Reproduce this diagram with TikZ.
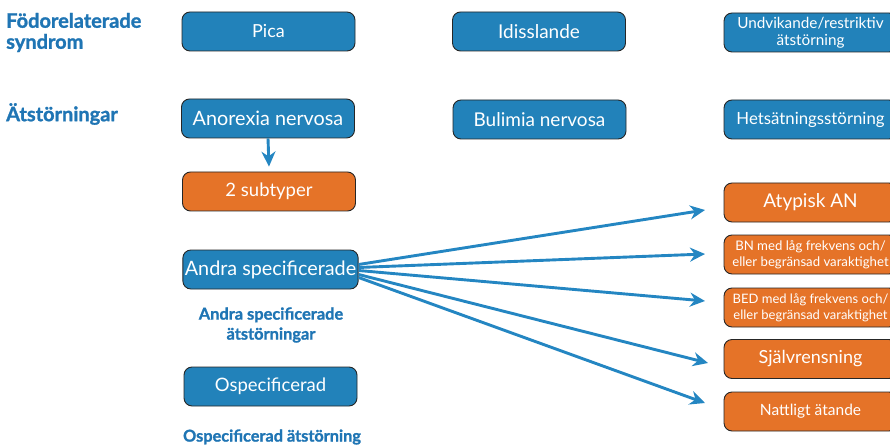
\documentclass[tikz,border=0pt]{standalone}
\usepackage{fontspec}
\setmainfont{Lato}
\newfontfamily\headfont{Lato}[BoldFeatures={FakeBold=1.3}]
\usetikzlibrary{arrows.meta,calc}
\definecolor{boxblue}{RGB}{34,130,186}
\definecolor{boxorange}{RGB}{229,115,40}
\definecolor{titleblue}{RGB}{31,117,180}
\definecolor{arrowblue}{RGB}{36,134,194}
\newcommand{\fs}[1]{\fontsize{#1}{#1}\selectfont}
\tikzset{
  box/.style={draw=black!85, line width=0.9pt, rounded corners=8pt, minimum width=173pt, minimum height=39pt, inner sep=2pt, text=white, align=center, font=\fs{18}},
  bluebox/.style={box, fill=boxblue},
  orangebox/.style={box, fill=boxorange},
  heading/.style={text=titleblue, inner sep=0pt}
}
\tikzset{arr/.style={draw=arrowblue, line width=2.9pt, -{Stealth[length=15pt,width=14pt]}}}
\begin{document}
\begin{tikzpicture}[x=1pt,y=-1pt]
\useasboundingbox (0,0) rectangle (890,446);
% headings
\node[heading, anchor=west, align=left, font=\headfont\bfseries\fontsize{20}{21}\selectfont] (h1) at (6,32.5) {Födorelaterade\\syndrom};
\node[heading, anchor=west, font=\headfont\bfseries\fs{20}] (h2) at (6,114) {Ätstörningar};
% column 1
\node[bluebox] (pica) at (268.5,31.5) {Pica};
\node[bluebox, font=\fs{19.8}] (an) at (268,118.5) {Anorexia nervosa};
\node[orangebox, font=\fs{18.5}] (sub) at (269,191.5) {2 subtyper};
\node[bluebox, font=\fs{19.8}] (andra) at (270.5,269.5) {Andra specificerade};
\node[heading, align=center, font=\headfont\bfseries\fontsize{16.4}{20}\selectfont] (andralbl) at (271,325) {Andra specificerade\\ätstörningar};
\node[bluebox, font=\fs{18.5}] (osp) at (270.5,386.5) {Ospecificerad};
\node[heading, font=\headfont\bfseries\fs{16.3}] (osplbl) at (272,437) {Ospecificerad ätstörning};
% column 2
\node[bluebox, font=\fs{19}] (idis) at (539,31.5) {Idisslande};
\node[bluebox, font=\fs{19}] (bn) at (539.5,119.5) {Bulimia nervosa};
% column 3
\node[bluebox, font=\fontsize{15.3}{17}\selectfont] (undv) at (810.5,32.5) {Undvikande/restriktiv\\ätstörning};
\node[bluebox, font=\fs{16.8}] (hets) at (810.5,119.5) {Hetsätningsstörning};
\node[orangebox, font=\fs{19}] (atyp) at (810.5,202.5) {Atypisk AN};
\node[orangebox, font=\fontsize{13.2}{16}\selectfont] (bnl) at (810.5,254.5) {BN med låg frekvens och/\\eller begränsad varaktighet};
\node[orangebox, font=\fontsize{13}{16}\selectfont] (bedl) at (810.5,307.5) {BED med låg frekvens och/\\eller begränsad varaktighet};
\node[orangebox, font=\fs{18}] (sjalv) at (810.5,359) {Självrensning};
\node[orangebox, font=\fs{15.5}] (natt) at (810.5,411.5) {Nattligt ätande};
% arrow tips
\coordinate (t1) at (705,210);
\coordinate (t2) at (705,254);
\coordinate (t3) at (705,301);
\coordinate (t4) at (708,363);
\coordinate (t5) at (705,403);
% arrows
\draw[arr] (an.south) -- ([yshift=5pt]sub.north);
\draw[arr] ([yshift=5pt]andra.east) -- (t1);
\draw[arr] ([yshift=2pt]andra.east) -- (t2);
\draw[arr] ([yshift=-1pt]andra.east) -- (t3);
\draw[arr] ([yshift=-5pt]andra.east) -- (t4);
\draw[arr] ([yshift=-8pt]andra.east) -- (t5);
\end{tikzpicture}
\end{document}
